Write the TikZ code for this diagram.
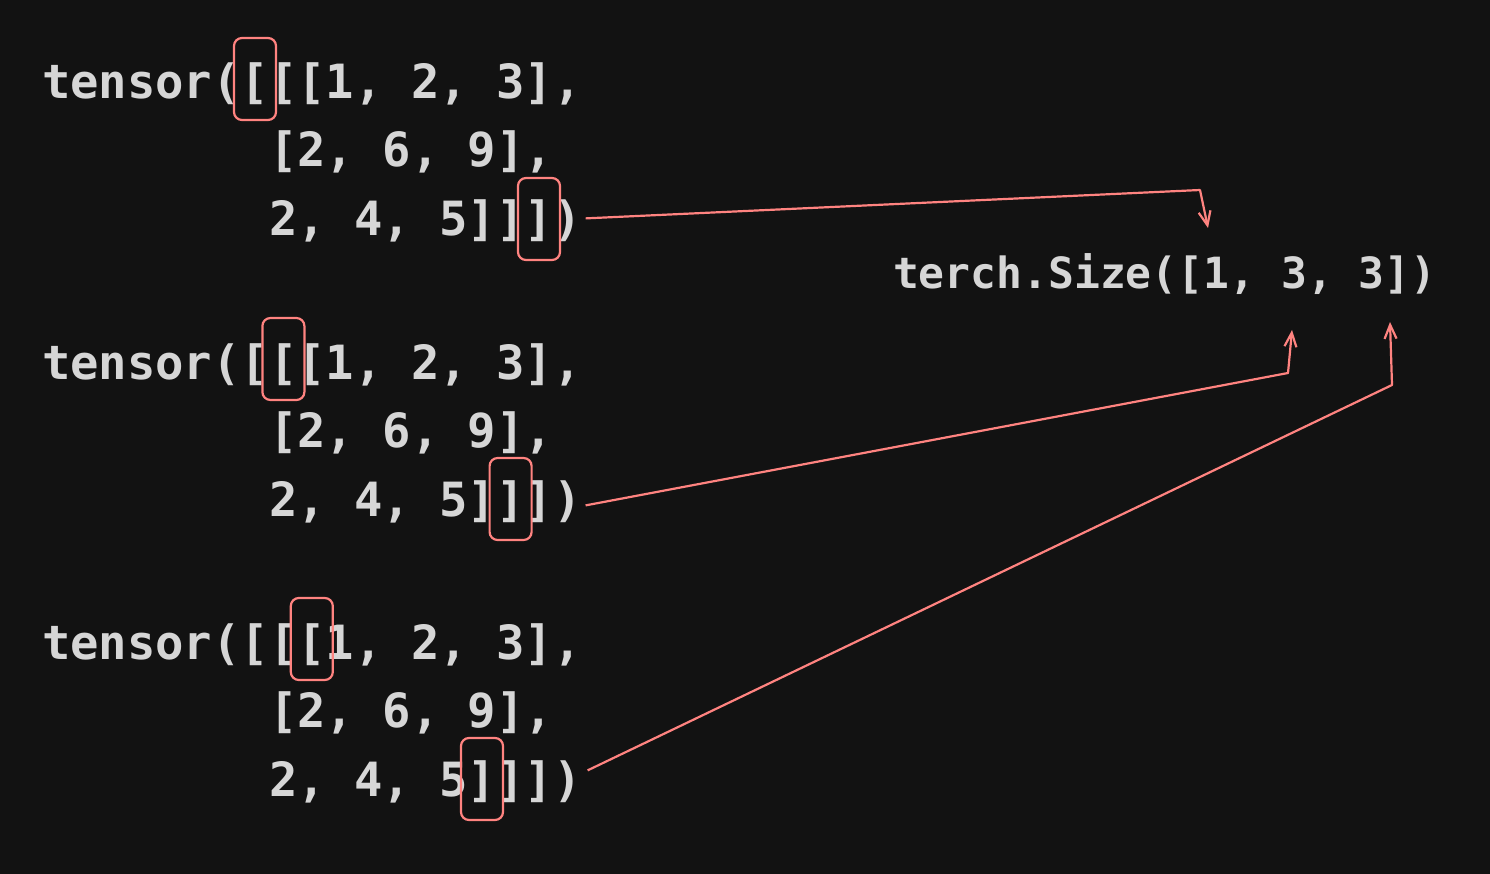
\documentclass[tikz,border=0pt]{standalone}
\usepackage{fontspec}
\setmonofont{DejaVu Sans Mono}
\usetikzlibrary{arrows.meta}
\definecolor{bg}{HTML}{121212}
\definecolor{ink}{HTML}{D6D6D6}
\definecolor{hl}{HTML}{FF8380}
\tikzset{
 code/.style={anchor=base west, inner sep=0pt, outer sep=0pt, text=ink, font=\fontsize{47.17}{56}\selectfont\ttfamily\bfseries},
 sizetext/.style={code, font=\fontsize{43}{52}\selectfont\ttfamily\bfseries},
 hbox/.style={draw=hl, line width=2.2pt, rounded corners=8pt, minimum width=42pt, minimum height=82pt, inner sep=0pt},
 link/.style={draw=hl, line width=2.2pt, line join=round, -{Straight Barb[length=14pt,width=12pt,line width=2.2pt]}}
}
\begin{document}
\begin{tikzpicture}[x=1pt,y=-1pt]
\fill[bg] (0,0) rectangle (1490,874);
\useasboundingbox (0,0) rectangle (1490,874);
% group 1
\node[code] (g1l1) at (42,99) {tensor([[[1, 2, 3],};
\node[code] (g1l2) at (269.2,167) {[2, 6, 9],};
\node[code] (g1l3) at (269.2,236) {2, 4, 5]]])};
% group 2
\node[code] (g2l1) at (42,379) {tensor([[[1, 2, 3],};
\node[code] (g2l2) at (269.2,447) {[2, 6, 9],};
\node[code] (g2l3) at (269.2,516) {2, 4, 5]]])};
% group 3
\node[code] (g3l1) at (42,659) {tensor([[[1, 2, 3],};
\node[code] (g3l2) at (269.2,727) {[2, 6, 9],};
\node[code] (g3l3) at (269.2,796) {2, 4, 5]]])};
% size
\node[sizetext] (size) at (893,289) {terch.Size([1, 3, 3])};
% highlight boxes
\node[hbox] (b1o) at (255,79) {};
\node[hbox] (b1c) at (539,219) {};
\node[hbox] (b2o) at (283.4,359) {};
\node[hbox] (b2c) at (510.6,499) {};
\node[hbox] (b3o) at (311.8,639) {};
\node[hbox] (b3c) at (482,779) {};
% arrows
\coordinate (k1) at (1200,190); \coordinate (t1) at (1208,228);
\coordinate (k2) at (1288,373); \coordinate (t2) at (1292,330);
\coordinate (k3) at (1392,385); \coordinate (t3) at (1390,322);
\draw[link] ([shift={(4pt,3pt)}]g1l3.east) -- (k1) -- (t1);
\draw[link] ([shift={(4pt,-4pt)}]g2l3.east) -- (k2) -- (t2);
\draw[link] ([shift={(6pt,11pt)}]g3l3.east) -- (k3) -- (t3);
\end{tikzpicture}
\end{document}
